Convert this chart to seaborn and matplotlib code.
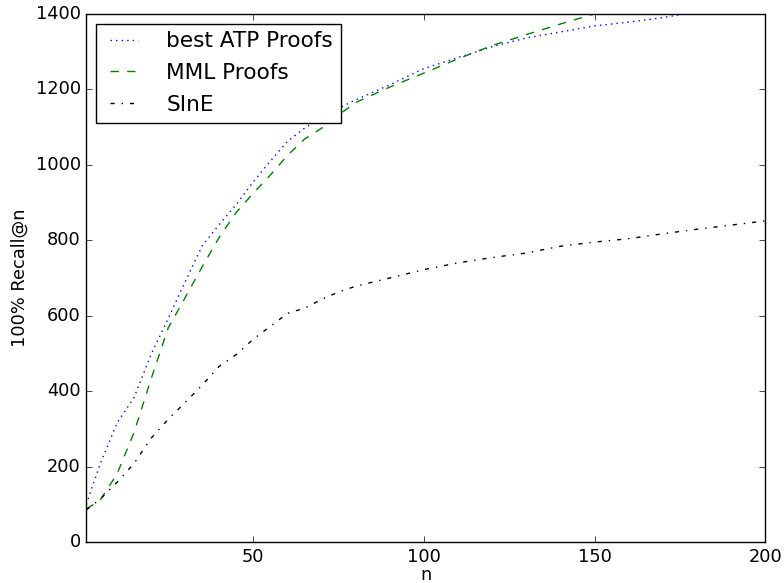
import matplotlib
matplotlib.use("Agg")
import matplotlib.pyplot as plt
import seaborn as sns
import pandas as pd

# recall@n curves, sampled along n
n_values = [1, 5, 10, 15, 20, 25, 30, 35, 40, 45, 50, 55, 60, 65, 70, 75, 80,
            90, 100, 110, 120, 130, 140, 150, 160, 170, 180, 190, 200]
atp_recall = [100, 205, 315, 383, 497, 592, 690, 785, 842, 895, 955, 1010, 1062,
              1097, 1125, 1150, 1172, 1212, 1255, 1284, 1313, 1336, 1352, 1368,
              1378, 1390, 1405, 1418, 1430]
mml_recall = [88, 110, 180, 290, 432, 567, 648, 730, 808, 874, 925, 973, 1025,
              1068, 1097, 1132, 1165, 1206, 1243, 1281, 1316, 1345, 1373, 1400,
              1420, 1440, 1458, 1475, 1490]
sine_recall = [85, 113, 158, 208, 275, 325, 370, 416, 466, 497, 538, 572, 606,
               620, 643, 663, 678, 700, 722, 740, 754, 766, 784, 795, 804, 817,
               829, 840, 851]
series_names = ["best ATP Proofs", "MML Proofs", "SInE"]

plt.style.use("classic")
plt.rcParams["font.family"] = ["DejaVu Sans"]
plt.rcParams["font.size"] = 12.8
plt.rcParams["legend.fontsize"] = 15.6

df = pd.DataFrame({
    "n": n_values * 3,
    "recall": atp_recall + mml_recall + sine_recall,
    "method": sum([[name] * len(n_values) for name in series_names], []),
})

fig = plt.figure(figsize=(7.84, 5.83), dpi=100, facecolor="white")
ax = fig.add_axes([0.110, 0.0703, 0.866, 0.906])

styles = {
    "best ATP Proofs": ("#0000ff", ":"),
    "MML Proofs": ("#008000", "--"),
    "SInE": ("#000000", "-."),
}
for name in series_names:
    color, ls = styles[name]
    sub = df[df["method"] == name]
    sns.lineplot(data=sub, x="n", y="recall", ax=ax, color=color,
                 linestyle=ls, linewidth=1.0, label=name, sort=False)

ax.set_xlim(1, 200)
ax.set_ylim(0, 1400)
ax.set_xticks([50, 100, 150, 200])
ax.set_yticks(range(0, 1401, 200))
ax.tick_params(labelsize=12.8)
ax.set_xlabel("n", labelpad=0, fontsize=12.8)
ax.set_ylabel("100% Recall@n", fontsize=12.8)
ax.legend(loc="upper left", fancybox=False, framealpha=1.0,
          handlelength=1.9, handletextpad=1.0, borderaxespad=0.45,
          borderpad=0.35, labelspacing=0.55)

fig.savefig("out.png", dpi=100, facecolor="white")
